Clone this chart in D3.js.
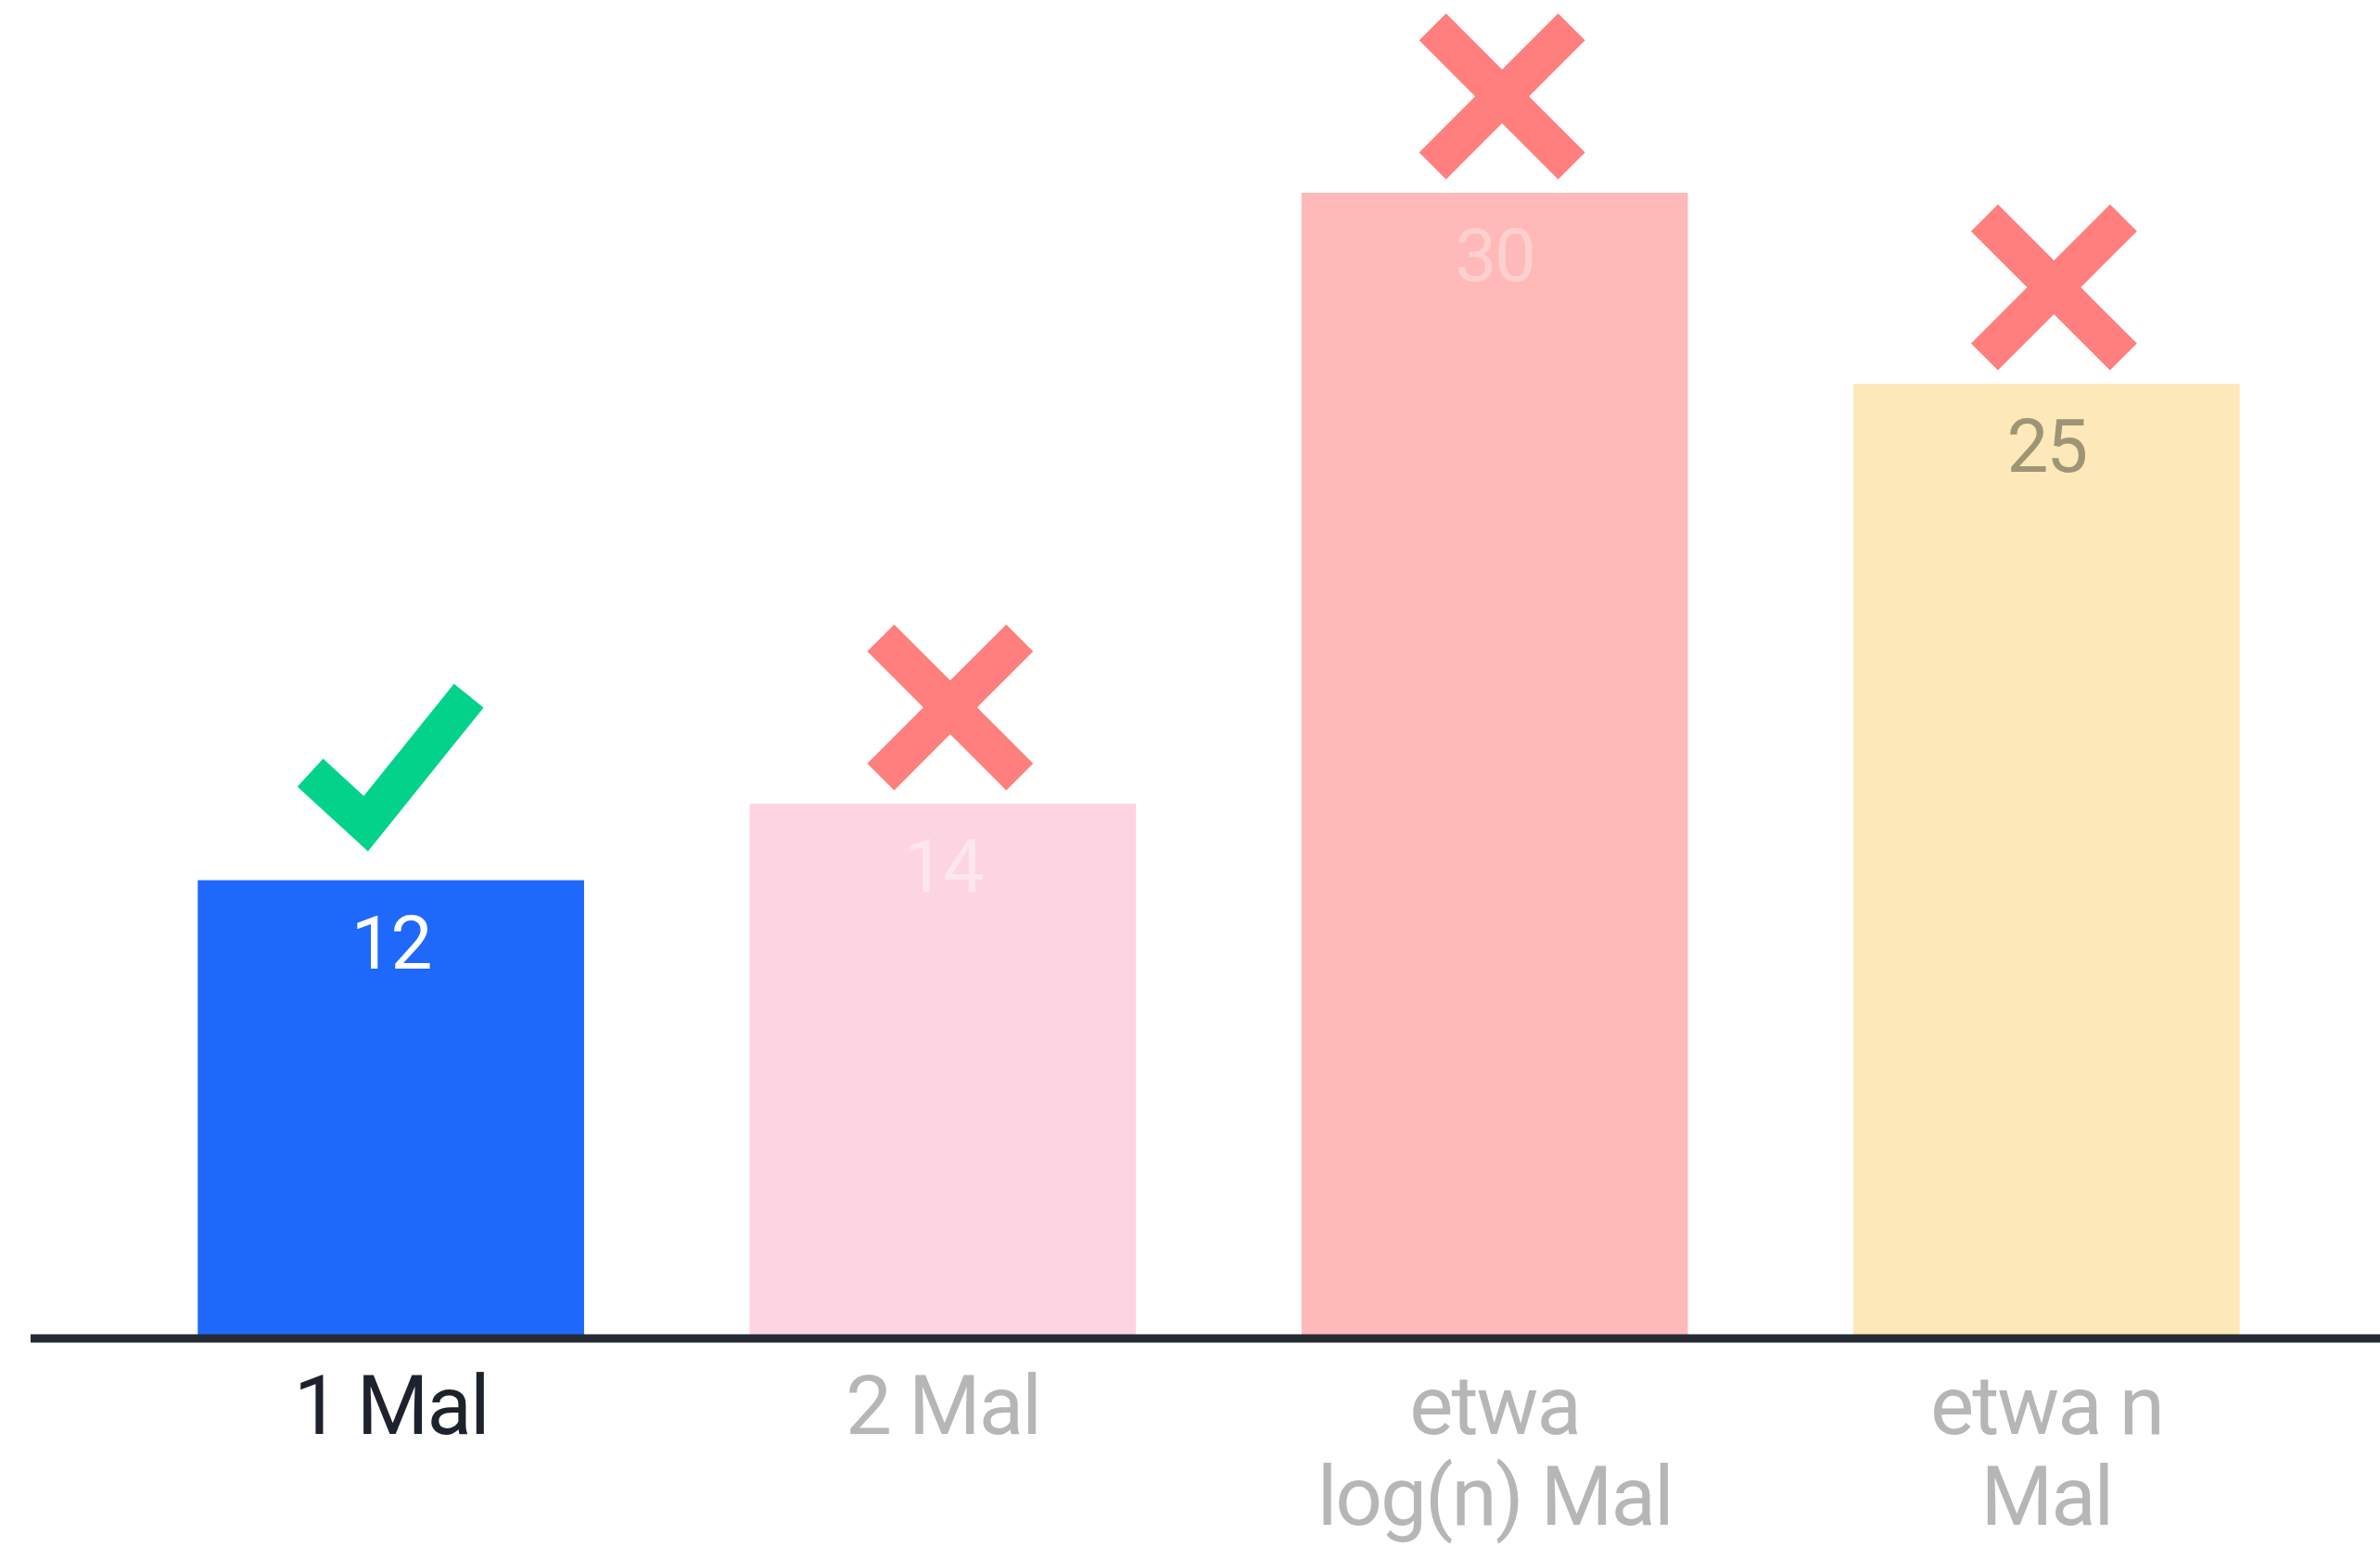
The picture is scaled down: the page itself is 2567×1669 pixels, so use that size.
<!DOCTYPE html>
<html>
<head>
<meta charset="utf-8">
<script src="https://cdn.jsdelivr.net/npm/d3@7"></script>
<style>
  html, body { margin: 0; padding: 0; background: #ffffff; }
  svg { display: block; }
</style>
</head>
<body>
<script>
// Category labels (each entry is a list of text lines)
const categories = ["1 Mal", "2 Mal", "etwa log(n) Mal", "etwa n Mal"];
const categoryLines = [["1 Mal"], ["2 Mal"], ["etwa", "log(n) Mal"], ["etwa n", "Mal"]];
// Bar values
const values = [12, 14, 30, 25];
// Verdict drawn above each bar
const verdicts = ["check", "cross", "cross", "cross"];

// Styling
const barColors = ["#1f68fc", "#fdd4e2", "#feb9b8", "#fde8b9"];
const valueColors = ["#ffffff", "#fde6ee", "#fdd0cf", "#9d9575"];
const categoryColors = ["#1d222c", "#b6b6b6", "#b6b6b6", "#b6b6b6"];
const checkColor = "#03d38a";
const crossColor = "#fe7f7e";
const axisColor = "#262a33";

const W = 2567, H = 1669;
const fontFamily = "Roboto, 'Liberation Sans', sans-serif";

const svg = d3.select("body").append("svg")
  .attr("width", W).attr("height", H)
  .attr("viewBox", `0 0 ${W} ${H}`);

const x = d3.scaleBand()
  .domain(categories)
  .range([124, 2505])
  .paddingInner(0.3)
  .paddingOuter(0.15);

const y = d3.scaleLinear()
  .domain([0, 30])
  .range([1444, 208]);

const data = categories.map((c, i) => ({
  cat: c, value: values[i], lines: categoryLines[i], verdict: verdicts[i], i
}));

// Bars
svg.append("g").selectAll("rect")
  .data(data)
  .join("rect")
  .attr("x", d => x(d.cat))
  .attr("y", d => y(d.value))
  .attr("width", x.bandwidth())
  .attr("height", d => y(0) - y(d.value))
  .attr("fill", d => barColors[d.i]);

// Baseline
svg.append("line")
  .attr("x1", 33).attr("x2", W)
  .attr("y1", y(0)).attr("y2", y(0))
  .attr("stroke", axisColor)
  .attr("stroke-width", 9);

// Value labels inside the bars
svg.append("g").selectAll("text")
  .data(data)
  .join("text")
  .attr("x", d => x(d.cat) + x.bandwidth() / 2)
  .attr("y", d => y(d.value) + 95)
  .attr("text-anchor", "middle")
  .attr("font-family", fontFamily)
  .attr("font-size", 80)
  .attr("letter-spacing", -2)
  .attr("fill", d => valueColors[d.i])
  .text(d => d.value);

// Category labels below the axis
const catG = svg.append("g");
data.forEach(d => {
  const t = catG.append("text")
    .attr("x", x(d.cat) + x.bandwidth() / 2)
    .attr("y", 1547)
    .attr("text-anchor", "middle")
    .attr("font-family", fontFamily)
    .attr("font-size", 89)
    .attr("letter-spacing", -2)
    .attr("fill", categoryColors[d.i]);
  d.lines.forEach((line, k) => {
    t.append("tspan")
      .attr("x", x(d.cat) + x.bandwidth() / 2)
      .attr("dy", k === 0 ? 0 : 98)
      .text(line);
  });
});

// Verdict marks above the bars
const markG = svg.append("g");
data.forEach(d => {
  const cx = x(d.cat) + x.bandwidth() / 2;
  const top = y(d.value);
  if (d.verdict === "check") {
    markG.append("path")
      .attr("d", d3.line()([[cx - 87, top - 116], [cx - 27, top - 61], [cx + 84, top - 199]]))
      .attr("fill", "none")
      .attr("stroke", checkColor)
      .attr("stroke-width", 41)
      .attr("stroke-linejoin", "miter")
      .attr("stroke-linecap", "butt");
  } else {
    const mx = cx + 8, my = top - 104, half = 106, thick = 41;
    const g = markG.append("g").attr("transform", `translate(${mx},${my})`);
    [45, -45].forEach(a => {
      g.append("rect")
        .attr("x", -half).attr("y", -thick / 2)
        .attr("width", half * 2).attr("height", thick)
        .attr("transform", `rotate(${a})`)
        .attr("fill", crossColor);
    });
  }
});
</script>
</body>
</html>
